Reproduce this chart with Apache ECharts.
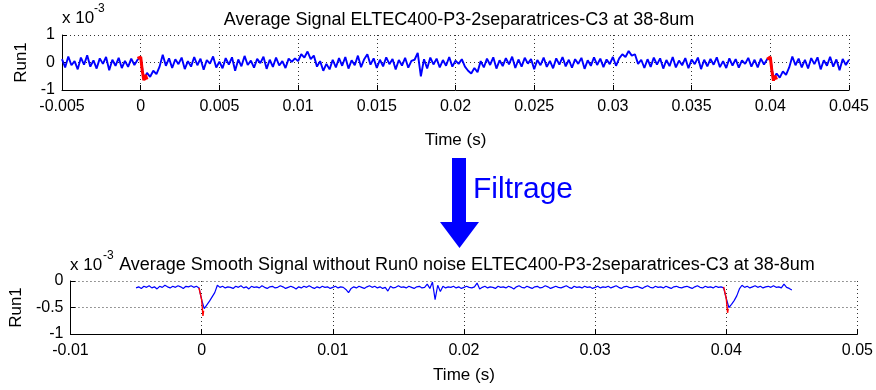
<!DOCTYPE html>
<html>
<head>
<meta charset="utf-8">
<script src="https://cdn.jsdelivr.net/npm/echarts@6/dist/echarts.min.js"></script>
<style>
html,body{margin:0;padding:0;background:#fff;}
#chart{width:876px;height:390px;}
</style>
</head>
<body>
<div id="chart"></div>
<script>
// ---------- DATA (values in units of 1e-3) ----------
const topTitle = 'Average Signal ELTEC400-P3-2separatrices-C3 at 38-8um';
const bottomTitle = 'Average Smooth Signal without Run0 noise ELTEC400-P3-2separatrices-C3 at 38-8um';
const sampleStart = -0.005;   // s
const sampleStep = 0.0002;    // s

const topRun1 = [
  0.12, -0.18, 0.22, -0.10, 0.05, -0.25, 0.18, -0.08, 0.26, -0.15,
  0.08, -0.22, 0.15, -0.05, 0.20, -0.28, 0.10, -0.12, 0.17, -0.20,
  0.06, -0.16, 0.14, -0.09, 0.10, 0.18, -0.62, -0.38, -0.52, -0.30,
  -0.42, -0.15, 0.28, -0.12, 0.15, -0.20, 0.12, -0.06, 0.18, -0.24,
  0.05, -0.15, 0.20, -0.10, 0.14, -0.26, 0.09, -0.04, 0.22, -0.18,
  0.03, -0.21, 0.16, -0.08, 0.19, -0.30, 0.11, -0.14, 0.24, -0.09,
  0.07, -0.19, 0.13, -0.02, 0.21, -0.23, 0.10, -0.16, 0.18, -0.11,
  0.05, -0.20, 0.14, 0.02, 0.15, 0.05, 0.30, 0.18, 0.40, 0.12,
  0.25, -0.15, 0.05, -0.30, -0.05, -0.25, 0.10, -0.18, 0.16, -0.12,
  0.20, -0.22, 0.08, -0.10, 0.25, -0.17, 0.12, 0.30, -0.08, 0.15,
  -0.20, 0.10, -0.14, 0.19, -0.06, 0.13, -0.25, 0.09, -0.11, 0.17,
  -0.19, 0.06, 0.10, 0.35, -0.50, 0.12, -0.22, 0.18, -0.07, 0.14,
  -0.18, 0.09, -0.12, 0.20, -0.15, 0.07, -0.05, 0.12, -0.15, -0.30,
  -0.40, -0.20, -0.35, 0.05, -0.18, 0.14, -0.09, 0.19, -0.22, 0.08,
  -0.13, 0.16, -0.07, 0.21, -0.20, 0.11, -0.15, 0.17, -0.04, 0.13,
  -0.24, 0.09, -0.10, 0.18, -0.16, 0.06, -0.21, 0.15, -0.08, 0.20,
  -0.14, 0.10, -0.19, 0.12, -0.05, 0.17, -0.23, 0.08, -0.12, 0.19,
  -0.09, 0.14, -0.17, 0.11, -0.06, 0.20, -0.12, 0.15, 0.30, 0.20,
  0.42, 0.25, 0.30, -0.05, 0.10, -0.20, 0.12, -0.16, 0.18, -0.08,
  0.15, -0.22, 0.09, -0.13, 0.20, -0.18, 0.07, -0.10, 0.16, -0.21,
  0.11, -0.06, 0.18, -0.24, 0.10, -0.14, 0.13, -0.08, 0.19, -0.17,
  0.05, -0.20, 0.15, -0.11, 0.12, -0.19, 0.08, -0.05, 0.17, -0.15,
  0.10, -0.18, 0.14, -0.07, 0.12, 0.16, -0.60, -0.40, -0.55, -0.32,
  -0.45, -0.18, 0.22, -0.10, 0.14, -0.18, 0.10, -0.22, 0.16, -0.06,
  0.19, -0.25, 0.08, -0.12, 0.21, -0.15, 0.11, -0.28, 0.13, -0.09,
  0.10
];

const bottomRun1 = [
  -0.13, -0.11, -0.14, -0.10, -0.12, -0.09, -0.13, -0.11, -0.15, -0.10,
  -0.12, -0.08, -0.11, -0.13, -0.10, -0.12, -0.09, -0.11, -0.14, -0.10,
  -0.11, -0.09, -0.12, -0.10, -0.13, -0.35, -0.52, -0.45, -0.38, -0.30,
  -0.22, -0.08, -0.12, -0.10, -0.13, -0.11, -0.12, -0.14, -0.10, -0.12,
  -0.09, -0.13, -0.11, -0.15, -0.10, -0.12, -0.11, -0.13, -0.09, -0.12,
  -0.14, -0.11, -0.10, -0.13, -0.12, -0.09, -0.11, -0.14, -0.12, -0.10,
  -0.12, -0.15, -0.11, -0.13, -0.10, -0.12, -0.09, -0.12, -0.14, -0.11,
  -0.13, -0.10, -0.12, -0.11, -0.14, -0.12, -0.10, -0.13, -0.11, -0.12,
  -0.16, -0.22, -0.14, -0.11, -0.13, -0.10, -0.12, -0.14, -0.11, -0.09,
  -0.12, -0.10, -0.13, -0.11, -0.14, -0.12, -0.19, -0.10, -0.13, -0.12,
  -0.09, -0.12, -0.11, -0.13, -0.10, -0.12, -0.14, -0.11, -0.10, -0.13,
  -0.12, -0.06, -0.14, -0.02, -0.35, -0.08, -0.20, -0.10, -0.13, -0.11,
  -0.12, -0.10, -0.13, -0.11, -0.14, -0.12, -0.10, -0.12, -0.13, -0.11,
  -0.04, -0.15, -0.12, -0.10, -0.13, -0.11, -0.12, -0.14, -0.10, -0.12,
  -0.11, -0.13, -0.10, -0.12, -0.15, -0.11, -0.09, -0.12, -0.13, -0.10,
  -0.12, -0.14, -0.11, -0.10, -0.13, -0.12, -0.09, -0.11, -0.14, -0.12,
  -0.10, -0.12, -0.13, -0.11, -0.09, -0.12, -0.14, -0.10, -0.12, -0.11,
  -0.13, -0.10, -0.12, -0.11, -0.14, -0.12, -0.10, -0.13, -0.11, -0.12,
  -0.10, -0.13, -0.11, -0.09, -0.12, -0.14, -0.11, -0.10, -0.12, -0.13,
  -0.11, -0.10, -0.12, -0.14, -0.11, -0.09, -0.12, -0.13, -0.10, -0.12,
  -0.11, -0.13, -0.10, -0.12, -0.14, -0.11, -0.10, -0.12, -0.13, -0.11,
  -0.10, -0.12, -0.14, -0.11, -0.09, -0.12, -0.13, -0.10, -0.12, -0.11,
  -0.13, -0.10, -0.12, -0.11, -0.13, -0.33, -0.50, -0.44, -0.37, -0.28,
  -0.15, -0.08, -0.12, -0.10, -0.13, -0.11, -0.09, -0.12, -0.10, -0.13,
  -0.11, -0.10, -0.12, -0.09, -0.12, -0.11, -0.13, -0.06, -0.12, -0.14,
  -0.17
];

// red (event) segments: time (s) and value (1e-3)
const topRed1Time = [-0.0002, 0.0, 0.0001, 0.0002, 0.0003, 0.0004];
const topRed1Val  = [0.15, 0.20, -0.30, -0.65, -0.45, -0.62];
const topRed2Time = [0.0398, 0.04, 0.0401, 0.0402, 0.0403, 0.0404];
const topRed2Val  = [0.12, 0.20, -0.30, -0.66, -0.48, -0.62];
const botRed1Time = [-0.0002, -0.0001, 0.0, 0.0001, 0.00015];
const botRed1Val  = [-0.13, -0.16, -0.35, -0.66, -0.56];
const botRed2Time = [0.0398, 0.0399, 0.04, 0.0401, 0.04015];
const botRed2Val  = [-0.11, -0.14, -0.33, -0.60, -0.52];

const topXTicks = {min: -0.005, max: 0.045, interval: 0.005};
const topYTicks = {min: -1, max: 1, interval: 1};
const botXTicks = {min: -0.01, max: 0.05, interval: 0.01};
const botYTicks = {min: -1, max: 0, interval: 0.5};

// ---------- BUILD ----------
function series(vals){ return vals.map((v,i)=>[sampleStart + i*sampleStep, v]); }
function pairs(t,v){ return t.map((x,i)=>[x, v[i]]); }

const FONT = "'Liberation Sans', Arial, Helvetica, sans-serif";
const fmt = v => String(+v.toFixed(4));

function xAxisDef(grid, ticks, nameGap){
  return {
    type:'value', gridIndex:grid, min:ticks.min, max:ticks.max, interval:ticks.interval,
    name:'Time (s)', nameLocation:'middle', nameGap:nameGap,
    nameTextStyle:{color:'#000', fontSize:17, fontFamily:FONT},
    axisLine:{show:true, onZero:false, lineStyle:{color:'#000', width:1}},
    axisTick:{show:true, inside:true, length:5, lineStyle:{color:'#000'}},
    axisLabel:{color:'#000', fontSize:16, fontFamily:FONT, margin:9, formatter:fmt},
    splitLine:{show:true, lineStyle:{color:'#333', type:[1,3], width:1}}
  };
}
function yAxisDef(grid, ticks, nameGap){
  return {
    type:'value', gridIndex:grid, min:ticks.min, max:ticks.max, interval:ticks.interval,
    name:'Run1', nameLocation:'middle', nameGap:nameGap, nameRotate:90,
    nameTextStyle:{color:'#000', fontSize:17, fontFamily:FONT},
    axisLine:{show:true, onZero:false, lineStyle:{color:'#000', width:1}},
    axisTick:{show:true, inside:true, length:5, lineStyle:{color:'#000'}},
    axisLabel:{color:'#000', fontSize:16, fontFamily:FONT, margin:7, formatter:fmt},
    splitLine:{show:true, lineStyle:{color:'#333', type:[1,3], width:1}}
  };
}
function line(x, y, data, color, width, z){
  return {type:'line', xAxisIndex:x, yAxisIndex:y, data:data, showSymbol:false,
    symbol:'none', animation:false, z:z, lineStyle:{color:color, width:width}};
}

const chart = echarts.init(document.getElementById('chart'), null, {renderer:'canvas'});
chart.setOption({
  animation:false,
  backgroundColor:'#fff',
  title:[
    {text:topTitle, left:454, top:6, textAlign:'center',
     textStyle:{color:'#000', fontSize:18, fontWeight:'normal', fontFamily:FONT}},
    {text:bottomTitle, left:462, top:251, textAlign:'center',
     textStyle:{color:'#000', fontSize:18, fontWeight:'normal', fontFamily:FONT}}
  ],
  grid:[
    {left:62, top:35, width:787, height:55, containLabel:false},
    {left:70, top:281, width:788, height:53, containLabel:false}
  ],
  xAxis:[xAxisDef(0, topXTicks, 42), xAxisDef(1, botXTicks, 33)],
  yAxis:[yAxisDef(0, topYTicks, 30), yAxisDef(1, botYTicks, 45)],
  series:[
    line(0,0,series(topRun1),'#0000ff',1.9,2),
    line(0,0,pairs(topRed1Time, topRed1Val),'#ff0000',3,3),
    line(0,0,pairs(topRed2Time, topRed2Val),'#ff0000',3,3),
    line(1,1,series(bottomRun1),'#0000ff',1.2,2),
    line(1,1,pairs(botRed1Time, botRed1Val),'#ff0000',1.4,3),
    line(1,1,pairs(botRed2Time, botRed2Val),'#ff0000',1.4,3)
  ],
  graphic:[
    {type:'text', left:62, top:10, style:{text:'x 10', fill:'#000', font:'17px '+FONT}},
    {type:'text', left:94, top:3, style:{text:'-3', fill:'#000', font:'12px '+FONT}},
    {type:'text', left:70, top:257, style:{text:'x 10', fill:'#000', font:'17px '+FONT}},
    {type:'text', left:103, top:250, style:{text:'-3', fill:'#000', font:'12px '+FONT}},
    {type:'polygon', shape:{points:[[452,158],[466,158],[466,222],[479,222],[459.5,248],[440,222],[452,222]]},
     style:{fill:'#0000ff'}},
    {type:'text', left:473, top:175, style:{text:'Filtrage', fill:'#0000ff', font:'30px '+FONT}}
  ]
});
</script>
</body>
</html>
